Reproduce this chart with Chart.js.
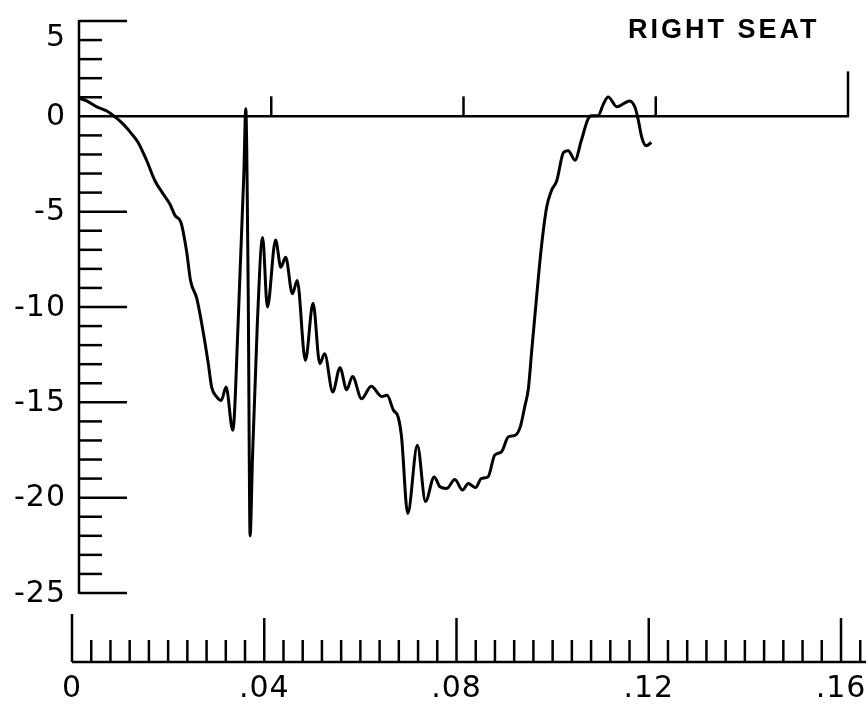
<!DOCTYPE html>
<html>
<head>
<meta charset="utf-8">
<script src="https://cdn.jsdelivr.net/npm/chart.js@4.4.1/dist/chart.umd.min.js"></script>
<style>
  html, body { margin: 0; padding: 0; background: #fff; }
  #wrap { width: 866px; height: 706px; }
</style>
</head>
<body>
<div id="wrap"><canvas id="seatChart" width="866" height="706"></canvas></div>
<script>
// time (s) and response
const timeValues = [
  0.0000, 0.0016, 0.0037, 0.0057, 0.0075, 0.0092, 0.0110, 0.0123, 0.0141, 0.0158,
  0.0175, 0.0189, 0.0200, 0.0212, 0.0224, 0.0232, 0.0245, 0.0259, 0.0269, 0.0276,
  0.0286, 0.0296, 0.0306, 0.0320, 0.0331, 0.0343, 0.0347, 0.0352, 0.0356, 0.0361,
  0.0371, 0.0382, 0.0392, 0.0409, 0.0420, 0.0430, 0.0444, 0.0454, 0.0471, 0.0487,
  0.0501, 0.0511, 0.0528, 0.0543, 0.0557, 0.0569, 0.0588, 0.0608, 0.0630, 0.0641,
  0.0654, 0.0664, 0.0671, 0.0684, 0.0704, 0.0721, 0.0739, 0.0751, 0.0765, 0.0782,
  0.0798, 0.0810, 0.0825, 0.0837, 0.0851, 0.0865, 0.0879, 0.0893, 0.0907, 0.0918,
  0.0928, 0.0935, 0.0942, 0.0952, 0.0962, 0.0973, 0.0983, 0.0994, 0.1008, 0.1018,
  0.1032, 0.1045, 0.1059, 0.1066, 0.1080, 0.1091, 0.1101, 0.1119, 0.1146, 0.1157,
  0.1164, 0.1171, 0.1180, 0.1191
];
const responseValues = [
  0.95, 0.81, 0.50, 0.29, -0.03, -0.41, -0.93, -1.37, -2.33, -3.38,
  -4.07, -4.60, -5.21, -5.55, -7.10, -8.61, -9.55, -11.40, -12.97, -14.20,
  -14.70, -14.90, -14.20, -16.47, -10.90, -3.00, 0.40, -9.10, -22.00, -17.90,
  -10.90, -6.35, -10.00, -6.48, -7.91, -7.39, -9.31, -8.61, -12.80, -9.80,
  -12.97, -12.45, -14.46, -13.18, -14.34, -13.64, -14.81, -14.16, -14.70, -14.63,
  -15.40, -15.77, -16.80, -20.83, -17.25, -20.20, -18.91, -19.43, -19.52, -19.05,
  -19.60, -19.26, -19.47, -19.00, -18.91, -17.77, -17.60, -16.82, -16.73, -16.30,
  -15.16, -14.28, -12.28, -9.49, -6.87, -4.77, -3.90, -3.38, -1.90, -1.80,
  -2.30, -1.28, -0.15, 0.03, 0.03, 0.64, 1.02, 0.50, 0.81, 0.46,
  -0.24, -1.11, -1.54, -1.37
];

const yLabelValues = [5, 0, -5, -10, -15, -20, -25];
const yTickLabels = ['5', '0', '-5', '-10', '-15', '-20', '-25'];
const xLabelValues = [0, 0.04, 0.08, 0.12, 0.16];
const xTickLabels = ['0', '.04', '.08', '.12', '.16'];
const xMin = 0, xMax = 0.16, yMin = -25, yMax = 5;
const chartTitle = 'RIGHT SEAT';

// old plotter style axes, drawn from the chart's own scales
const plotterAxes = {
  id: 'plotterAxes',
  beforeDatasetsDraw(chart) {
    const { ctx, scales: { x, y } } = chart;
    const line = (x1, y1, x2, y2) => {
      ctx.beginPath(); ctx.moveTo(x1, y1); ctx.lineTo(x2, y2); ctx.stroke();
    };
    ctx.save();
    ctx.strokeStyle = '#000';
    ctx.fillStyle = '#000';
    ctx.lineWidth = 2.5;

    // vertical axis with inward ticks
    const x0 = x.getPixelForValue(xMin);
    line(x0, y.getPixelForValue(yMax) - 1, x0, y.getPixelForValue(yMin) + 1);
    for (let v = yMin; v <= yMax; v++) {
      if (v === 0) continue;
      const py = y.getPixelForValue(v);
      line(x0, py, x0 + (v % 5 === 0 ? 48 : 23), py);
    }
    ctx.font = '30px "DejaVu Sans"';
    ctx.letterSpacing = '1px';
    ctx.textAlign = 'right';
    ctx.textBaseline = 'middle';
    yLabelValues.forEach((v, i) => {
      const py = Math.max(y.getPixelForValue(v), y.top + 16);
      ctx.fillText(yTickLabels[i], 66, py + 1);
    });

    // zero line with upward marks
    const py0 = y.getPixelForValue(0);
    line(x0, py0, x.getPixelForValue(xMax) + 1, py0);
    xLabelValues.forEach(v => {
      if (v === 0) return;
      const px = x.getPixelForValue(v);
      line(px, py0, px, py0 - (v === xMax ? 45 : 20));
    });

    // separate time axis below the plot
    const shift = -7;
    const base = y.bottom + 69;
    line(x0 + shift, base, chart.width, base);
    line(x0 + shift, base, x0 + shift, base - 48);
    for (let k = 1; k <= 41; k++) {
      const v = k * 0.004;
      const px = x.getPixelForValue(v) + shift;
      line(px, base, px, base - (k % 10 === 0 ? 44 : 22));
    }
    ctx.textAlign = 'center';
    ctx.letterSpacing = '1px';
    xLabelValues.forEach((v, i) => {
      ctx.fillText(xTickLabels[i], x.getPixelForValue(v) + shift, base + 27);
    });

    // title
    ctx.font = 'bold 27px "Liberation Sans"';
    ctx.letterSpacing = '3px';
    ctx.textAlign = 'left';
    ctx.textBaseline = 'alphabetic';
    ctx.fillText(chartTitle, 628, 38);
    ctx.restore();
  }
};

document.addEventListener('DOMContentLoaded', function () {
  const ctx = document.getElementById('seatChart').getContext('2d');
  new Chart(ctx, {
    type: 'line',
    data: {
      datasets: [{
        data: timeValues.map((t, i) => ({ x: t, y: responseValues[i] })),
        borderColor: '#000',
        borderWidth: 3,
        pointRadius: 0,
        fill: false,
        cubicInterpolationMode: 'monotone'
      }]
    },
    options: {
      responsive: false,
      maintainAspectRatio: false,
      animation: false,
      layout: { padding: { left: 79, right: 18, top: 21, bottom: 113 } },
      scales: {
        x: { type: 'linear', min: xMin, max: xMax, display: false },
        y: { min: yMin, max: yMax, display: false }
      },
      plugins: { legend: { display: false }, tooltip: { enabled: false } }
    },
    plugins: [plotterAxes]
  });
});
</script>
</body>
</html>
